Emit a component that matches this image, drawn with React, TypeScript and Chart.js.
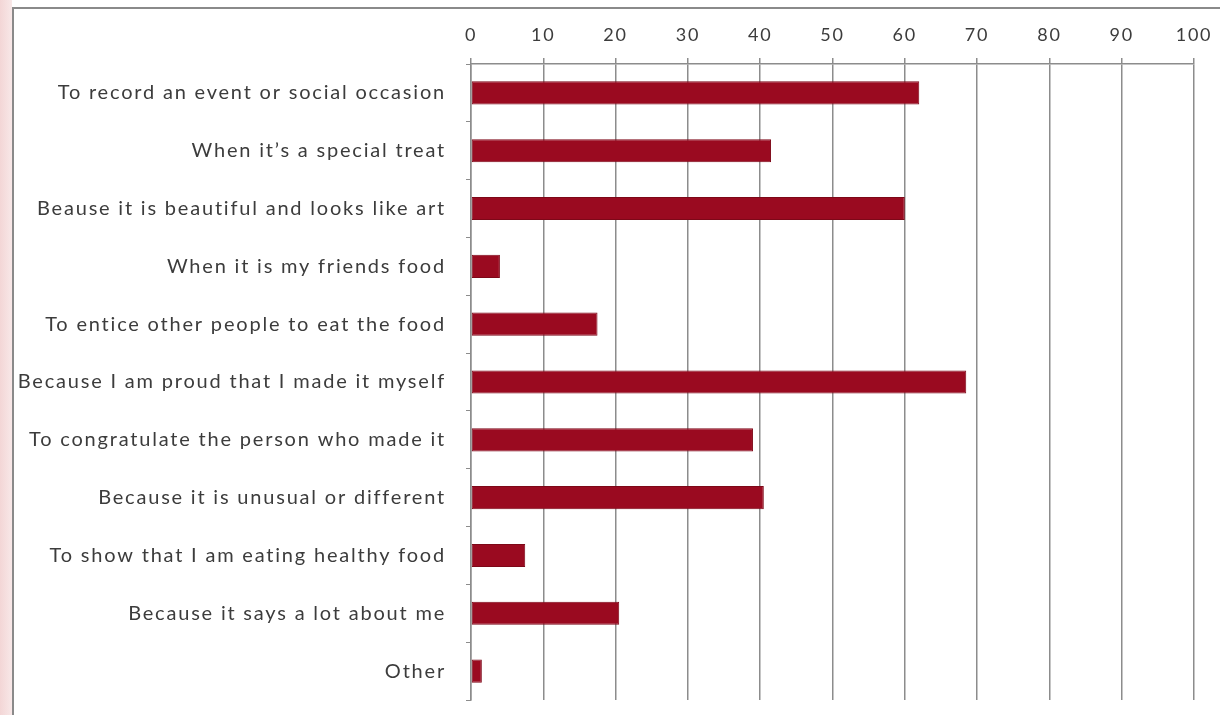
import React, { useEffect, useRef } from "react";
import { Chart, registerables } from "chart.js";

Chart.register(...registerables);

const categories: string[] = [
  "To record an event or social occasion",
  "When it’s a special treat",
  "Beause it is beautiful and looks like art",
  "When it is my friends food",
  "To entice other people to eat the food",
  "Because I am proud that I made it myself",
  "To congratulate the person who made it",
  "Because it is unusual or different",
  "To show that I am eating healthy food",
  "Because it says a lot about me",
  "Other",
];

const percentValues: number[] = [62, 41.5, 60, 4, 17.5, 68.5, 39, 40.5, 7.5, 20.5, 1.5];

const xTickMin = 0;
const xTickMax = 100;
const xTickStep = 10;

const FONT = "Lato";
const TEXT_COLOR = "#3c3c3c";
const GRID_COLOR = "#8c8c8c";
const LETTER_SPACING = "1.8px";

const spacingPlugin = {
  id: "spacing",
  beforeUpdate(chart: any) {
    chart.ctx.letterSpacing = LETTER_SPACING;
  },
  beforeDraw(chart: any) {
    chart.ctx.letterSpacing = LETTER_SPACING;
  },
};

const framePlugin = {
  id: "frame",
  beforeDraw(chart: any) {
    const ctx = chart.ctx;
    ctx.save();
    ctx.fillStyle = "#ffffff";
    ctx.fillRect(0, 0, chart.width, chart.height);
    const g = ctx.createLinearGradient(0, 0, 12, 0);
    g.addColorStop(0, "#f3d6d6");
    g.addColorStop(1, "#f8e8e8");
    ctx.fillStyle = g;
    ctx.fillRect(0, 0, 12, chart.height);
    ctx.strokeStyle = "#8a8a8a";
    ctx.lineWidth = 2;
    ctx.beginPath();
    ctx.moveTo(13, chart.height);
    ctx.lineTo(13, 8);
    ctx.lineTo(chart.width, 8);
    ctx.stroke();
    ctx.restore();
  },
};

export default function App() {
  const ref = useRef<HTMLCanvasElement | null>(null);

  useEffect(() => {
    document.body.style.margin = "0";
    const canvas = ref.current;
    if (!canvas) return;
    const chart = new Chart(canvas, {
      type: "bar",
      data: {
        labels: categories,
        datasets: [
          {
            data: percentValues,
            backgroundColor: "#9a0a20",
            borderColor: "#7d0818",
            borderWidth: 1,
            borderSkipped: false,
            categoryPercentage: 1,
            barPercentage: 0.4,
          },
        ],
      },
      options: {
        indexAxis: "y",
        responsive: false,
        animation: false,
        devicePixelRatio: 1,
        layout: { padding: { left: 0, right: 26, top: 0, bottom: 15 } },
        plugins: {
          legend: { display: false },
          tooltip: { enabled: false },
          title: { display: false },
        },
        scales: {
          x: {
            position: "top",
            min: xTickMin,
            max: xTickMax,
            ticks: {
              stepSize: xTickStep,
              color: TEXT_COLOR,
              font: { family: FONT, size: 18 },
              padding: 12,
              maxRotation: 0,
            },
            grid: {
              color: GRID_COLOR,
              lineWidth: 1.5,
              drawTicks: true,
              tickLength: 6,
            },
            border: { display: true, color: GRID_COLOR, width: 1.5 },
            afterFit(scale: any) {
              scale.height = 64;
              scale.paddingLeft = 0;
              scale.paddingRight = 0;
            },
          },
          y: {
            ticks: {
              color: TEXT_COLOR,
              font: { family: FONT, size: 20 },
              padding: 20,
              autoSkip: false,
            },
            grid: {
              drawOnChartArea: false,
              drawTicks: true,
              tickLength: 5,
              color: GRID_COLOR,
              offset: true,
            },
            border: { display: true, color: GRID_COLOR, width: 1.5 },
            afterFit(scale: any) {
              scale.width = 471;
              scale.paddingTop = 0;
              scale.paddingBottom = 0;
            },
          },
        },
      },
      plugins: [spacingPlugin, framePlugin],
    });
    return () => chart.destroy();
  }, []);

  return (
    <div style={{ width: 1220, height: 715 }}>
      <canvas ref={ref} width={1220} height={715} style={{ display: "block", width: 1220, height: 715 }} />
    </div>
  );
}
